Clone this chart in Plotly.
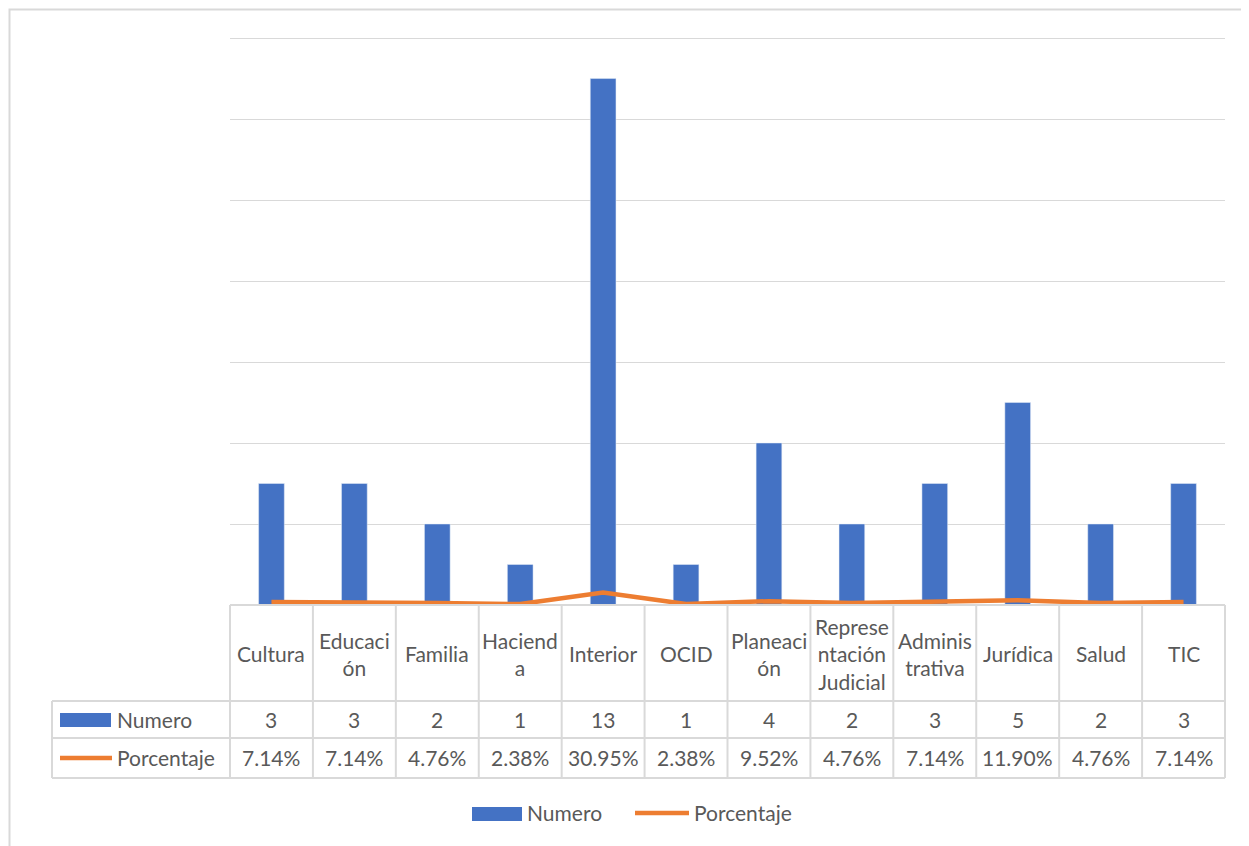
import plotly.graph_objects as go

# --- Data ---
categorias = ["Cultura", "Educación", "Familia", "Hacienda", "Interior", "OCID",
              "Planeación", "Representación Judicial", "Administrativa", "Jurídica",
              "Salud", "TIC"]
# how each category label wraps inside its table cell
etiquetas = ["Cultura", "Educaci<br>ón", "Familia", "Haciend<br>a", "Interior", "OCID",
             "Planeaci<br>ón", "Represe<br>ntación<br>Judicial", "Adminis<br>trativa",
             "Jurídica", "Salud", "TIC"]
numero = [3, 3, 2, 1, 13, 1, 4, 2, 3, 5, 2, 3]
porcentaje = [0.0714, 0.0714, 0.0476, 0.0238, 0.3095, 0.0238, 0.0952, 0.0476,
              0.0714, 0.1190, 0.0476, 0.0714]

W, H = 1249, 846
OFF = 8  # page body margin shifts the figure
YMAX = 14.1  # a bit above 14 so the top gridline is drawn
# plot area in screen pixels: y=0 at 605, y=14 at 38
SX0, SX1, SY0 = 230, 1225, 605
SY1 = SY0 - YMAX * (605 - 38) / 14
BLUE = "#4472C4"
ORANGE = "#ED7D31"
GRID = "#D9D9D9"
TXT = "#595959"
FONT = "Lato, 'Open Sans', sans-serif"
FS = 21


def px(x):
    # screen pixel -> paper x
    return (x - SX0) / (SX1 - SX0)


def py(y):
    # screen pixel -> paper y
    return (SY0 - y) / (SY0 - SY1)


n = len(categorias)
xs = list(range(n))

fig = go.Figure()
fig.add_trace(go.Bar(x=xs, y=numero, name="Numero", marker_color=BLUE,
                     width=0.31, showlegend=False))
fig.add_trace(go.Scatter(x=xs, y=porcentaje, name="Porcentaje", mode="lines",
                         line=dict(color=ORANGE, width=4.5), showlegend=False))

shapes = []
annotations = []

# --- data table under the axis ---
row_y = [605, 701, 738, 778]
for k in range(n + 1):
    xk = k / n
    shapes.append(dict(type="line", xref="paper", yref="paper", x0=xk, x1=xk,
                       y0=py(605), y1=py(778), line=dict(color=GRID, width=2)))
for yy in row_y:
    shapes.append(dict(type="line", xref="paper", yref="paper", x0=0 if yy == 605 else px(52),
                       x1=1, y0=py(yy), y1=py(yy), line=dict(color=GRID, width=2)))
shapes.append(dict(type="line", xref="paper", yref="paper", x0=px(52), x1=px(52),
                   y0=py(701), y1=py(778), line=dict(color=GRID, width=2)))

for i in range(n):
    cx = (i + 0.5) / n
    annotations.append(dict(x=cx, y=py(654), xref="paper", yref="paper", text=etiquetas[i],
                            showarrow=False, xanchor="center", yanchor="middle"))
    annotations.append(dict(x=cx, y=py(719.5), xref="paper", yref="paper", text=str(numero[i]),
                            showarrow=False, xanchor="center", yanchor="middle"))
    annotations.append(dict(x=cx, y=py(758), xref="paper", yref="paper",
                            text=f"{porcentaje[i]:.2%}",
                            showarrow=False, xanchor="center", yanchor="middle"))

# legend keys inside the table
shapes.append(dict(type="rect", xref="paper", yref="paper", x0=px(60), x1=px(111),
                   y0=py(727), y1=py(713), fillcolor=BLUE, line=dict(width=0)))
shapes.append(dict(type="line", xref="paper", yref="paper", x0=px(60), x1=px(112),
                   y0=py(758), y1=py(758), line=dict(color=ORANGE, width=4.5)))
annotations.append(dict(x=px(115), y=py(719.5), xref="paper", yref="paper", text="Numero",
                        showarrow=False, xanchor="left", yanchor="middle"))
annotations.append(dict(x=px(115), y=py(758), xref="paper", yref="paper", text="Porcentaje",
                        showarrow=False, xanchor="left", yanchor="middle"))

# legend at the bottom
shapes.append(dict(type="rect", xref="paper", yref="paper", x0=px(472), x1=px(522),
                   y0=py(821), y1=py(807), fillcolor=BLUE, line=dict(width=0)))
shapes.append(dict(type="line", xref="paper", yref="paper", x0=px(635), x1=px(689),
                   y0=py(813), y1=py(813), line=dict(color=ORANGE, width=4.5)))
annotations.append(dict(x=px(525), y=py(813), xref="paper", yref="paper", text="Numero",
                        showarrow=False, xanchor="left", yanchor="middle"))
annotations.append(dict(x=px(692), y=py(813), xref="paper", yref="paper", text="Porcentaje",
                        showarrow=False, xanchor="left", yanchor="middle"))

# chart frame (figure starts at screen x=8, so keep it just inside)
shapes.append(dict(type="rect", xref="paper", yref="paper", x0=px(9.5), x1=px(1300),
                   y0=py(900), y1=py(9.5), line=dict(color=GRID, width=2), layer="below"))

fig.update_layout(
    width=W, height=H,
    margin=dict(l=SX0 - OFF, r=W - (SX1 - OFF), t=SY1 - OFF, b=H - (SY0 - OFF)),
    plot_bgcolor="rgba(0,0,0,0)", paper_bgcolor="white",
    font=dict(family=FONT, size=FS, color=TXT),
    shapes=shapes, annotations=annotations,
    showlegend=False,
    xaxis=dict(range=[-0.5, n - 0.5], showticklabels=False, showgrid=False,
               zeroline=False, showline=False, fixedrange=True),
    yaxis=dict(range=[0, YMAX], dtick=2, showticklabels=False, showgrid=True,
               gridcolor=GRID, gridwidth=1, zeroline=False, showline=False),
)

fig.write_html("out.html")
